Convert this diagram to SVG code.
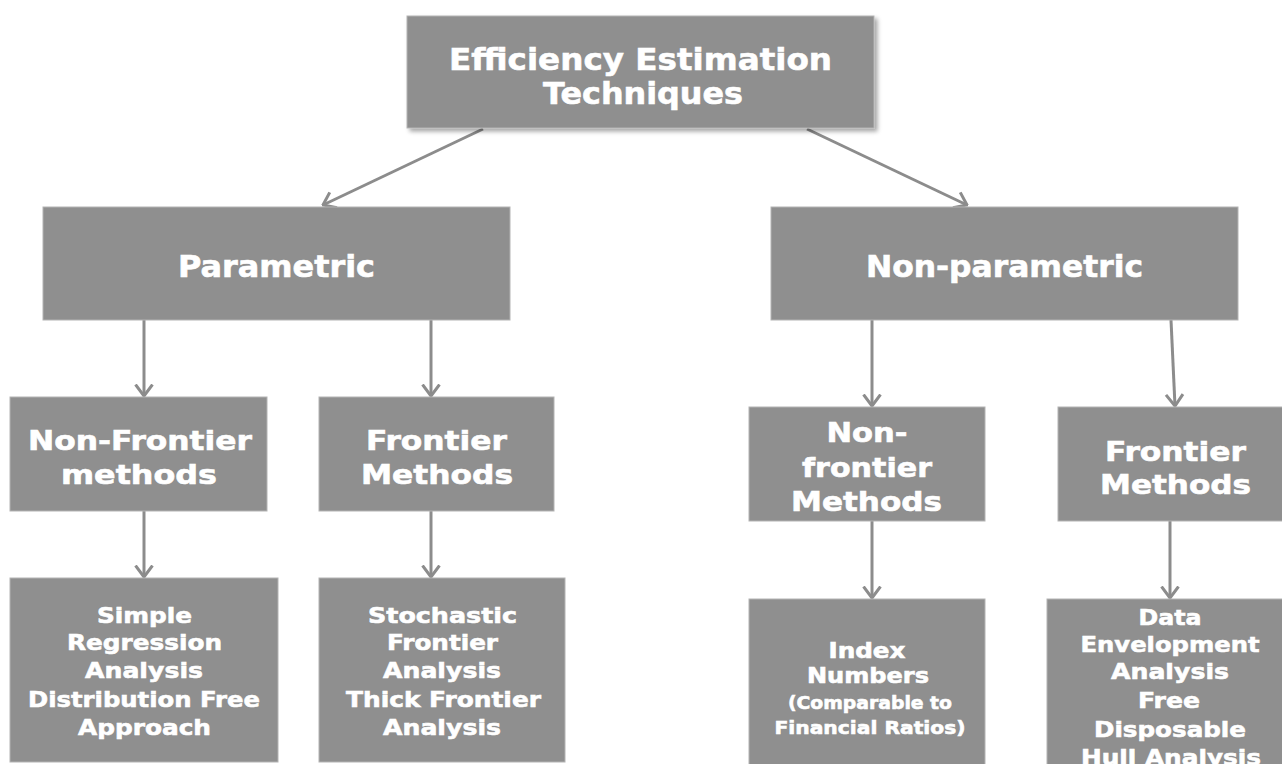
<svg xmlns="http://www.w3.org/2000/svg" width="1282" height="764" viewBox="0 0 1282 764">
  <style>
    .box { fill: #8f8f8f; stroke: #b3b3b3; stroke-width: 1; }
    .lbl { fill: #ffffff; stroke: #ffffff; stroke-width: 0.6; font-family: "DejaVu Sans", "Liberation Sans", sans-serif; font-weight: bold; text-anchor: middle; }
    .t1 { font-size: 31px; }
    .t2 { font-size: 30px; }
    .t3 { font-size: 27px; }
    .t4 { font-size: 22px; }
    .t5 { font-size: 21px; }
    .t6 { font-size: 18px; }
    .link { fill: none; stroke: #8c8c8c; stroke-width: 3; marker-end: url(#arrow); }
  </style>
  <defs>
    <marker id="arrow" markerUnits="userSpaceOnUse" viewBox="0 0 14 20" markerWidth="14" markerHeight="20" refX="12.5" refY="10" orient="auto">
      <path d="M1,1.5 L12.5,10 L1,18.5" fill="none" stroke="#8c8c8c" stroke-width="3"/>
    </marker>
    <filter id="shadow" x="-5%" y="-10%" width="115%" height="130%">
      <feDropShadow dx="3" dy="3" stdDeviation="2" flood-color="#000000" flood-opacity="0.35"/>
    </filter>
  </defs>

  <rect width="1282" height="764" fill="#ffffff"/>

  <!-- connectors -->
  <g id="connectors">
    <path class="link" d="M483,129 L323,205"/>
    <path class="link" d="M807,129 L967,205"/>
    <path class="link" d="M144,320 L144,396"/>
    <path class="link" d="M431,320 L431,396"/>
    <path class="link" d="M872,320 L872,406"/>
    <path class="link" d="M1171,320 L1175,406"/>
    <path class="link" d="M144,511 L144,577"/>
    <path class="link" d="M431,511 L431,577"/>
    <path class="link" d="M872,521 L872,598"/>
    <path class="link" d="M1170,521 L1170,598"/>
  </g>

  <!-- root -->
  <g id="efficiency-estimation">
    <rect class="box" x="407" y="16" width="467" height="112" filter="url(#shadow)"/>
    <text class="lbl t1" x="640.5" y="70" textLength="383" lengthAdjust="spacingAndGlyphs">Efficiency Estimation</text>
    <text class="lbl t1" x="643" y="104" textLength="200" lengthAdjust="spacingAndGlyphs">Techniques</text>
  </g>

  <!-- second level -->
  <g id="parametric">
    <rect class="box" x="43" y="207" width="467" height="113"/>
    <text class="lbl t2" x="276.5" y="277" textLength="197" lengthAdjust="spacingAndGlyphs">Parametric</text>
  </g>
  <g id="non-parametric">
    <rect class="box" x="771" y="207" width="467" height="113"/>
    <text class="lbl t2" x="1004.5" y="277" textLength="277" lengthAdjust="spacingAndGlyphs">Non-parametric</text>
  </g>

  <!-- third level -->
  <g id="param-non-frontier">
    <rect class="box" x="10" y="397" width="257" height="114"/>
    <text class="lbl t3" x="140" y="450" textLength="224" lengthAdjust="spacingAndGlyphs">Non-Frontier</text>
    <text class="lbl t3" x="139" y="484" textLength="156" lengthAdjust="spacingAndGlyphs">methods</text>
  </g>
  <g id="param-frontier">
    <rect class="box" x="319" y="397" width="235" height="114"/>
    <text class="lbl t3" x="436.5" y="450" textLength="141" lengthAdjust="spacingAndGlyphs">Frontier</text>
    <text class="lbl t3" x="437" y="484" textLength="152" lengthAdjust="spacingAndGlyphs">Methods</text>
  </g>
  <g id="nonparam-non-frontier">
    <rect class="box" x="749" y="407" width="236" height="114"/>
    <text class="lbl t3" x="867" y="442" textLength="81" lengthAdjust="spacingAndGlyphs">Non-</text>
    <text class="lbl t3" x="867" y="477" textLength="130" lengthAdjust="spacingAndGlyphs">frontier</text>
    <text class="lbl t3" x="866.5" y="511" textLength="151" lengthAdjust="spacingAndGlyphs">Methods</text>
  </g>
  <g id="nonparam-frontier">
    <rect class="box" x="1058" y="407" width="234" height="114"/>
    <text class="lbl t3" x="1175.5" y="461" textLength="141" lengthAdjust="spacingAndGlyphs">Frontier</text>
    <text class="lbl t3" x="1175.5" y="494" textLength="151" lengthAdjust="spacingAndGlyphs">Methods</text>
  </g>

  <!-- leaves -->
  <g id="regression-dfa">
    <rect class="box" x="10" y="578" width="268" height="184"/>
    <text class="lbl t4" x="144.5" y="623" textLength="95" lengthAdjust="spacingAndGlyphs">Simple</text>
    <text class="lbl t4" x="144.5" y="650" textLength="155" lengthAdjust="spacingAndGlyphs">Regression</text>
    <text class="lbl t4" x="144" y="678" textLength="118" lengthAdjust="spacingAndGlyphs">Analysis</text>
    <text class="lbl t4" x="144" y="707" textLength="232" lengthAdjust="spacingAndGlyphs">Distribution Free</text>
    <text class="lbl t4" x="144.5" y="735" textLength="133" lengthAdjust="spacingAndGlyphs">Approach</text>
  </g>
  <g id="sfa-tfa">
    <rect class="box" x="319" y="578" width="246" height="184"/>
    <text class="lbl t4" x="442.5" y="623" textLength="149" lengthAdjust="spacingAndGlyphs">Stochastic</text>
    <text class="lbl t4" x="442.5" y="650" textLength="111" lengthAdjust="spacingAndGlyphs">Frontier</text>
    <text class="lbl t4" x="442" y="678" textLength="118" lengthAdjust="spacingAndGlyphs">Analysis</text>
    <text class="lbl t4" x="443.5" y="707" textLength="195" lengthAdjust="spacingAndGlyphs">Thick Frontier</text>
    <text class="lbl t4" x="442" y="735" textLength="118" lengthAdjust="spacingAndGlyphs">Analysis</text>
  </g>
  <g id="index-numbers">
    <rect class="box" x="749" y="599" width="236" height="180"/>
    <text class="lbl t5" x="867" y="658" textLength="77" lengthAdjust="spacingAndGlyphs">Index</text>
    <text class="lbl t5" x="868" y="683" textLength="122" lengthAdjust="spacingAndGlyphs">Numbers</text>
    <text class="lbl t6" x="870" y="709" textLength="164" lengthAdjust="spacingAndGlyphs">(Comparable to</text>
    <text class="lbl t6" x="870" y="734" textLength="191" lengthAdjust="spacingAndGlyphs">Financial Ratios)</text>
  </g>
  <g id="dea-fdh">
    <rect class="box" x="1047" y="599" width="246" height="180"/>
    <text class="lbl t4" x="1170" y="625" textLength="63" lengthAdjust="spacingAndGlyphs">Data</text>
    <text class="lbl t4" x="1170" y="652" textLength="179" lengthAdjust="spacingAndGlyphs">Envelopment</text>
    <text class="lbl t4" x="1170" y="679" textLength="118" lengthAdjust="spacingAndGlyphs">Analysis</text>
    <text class="lbl t4" x="1169" y="708" textLength="62" lengthAdjust="spacingAndGlyphs">Free</text>
    <text class="lbl t4" x="1170" y="737" textLength="152" lengthAdjust="spacingAndGlyphs">Disposable</text>
    <text class="lbl t4" x="1171" y="765" textLength="180" lengthAdjust="spacingAndGlyphs">Hull Analysis</text>
  </g>
</svg>
